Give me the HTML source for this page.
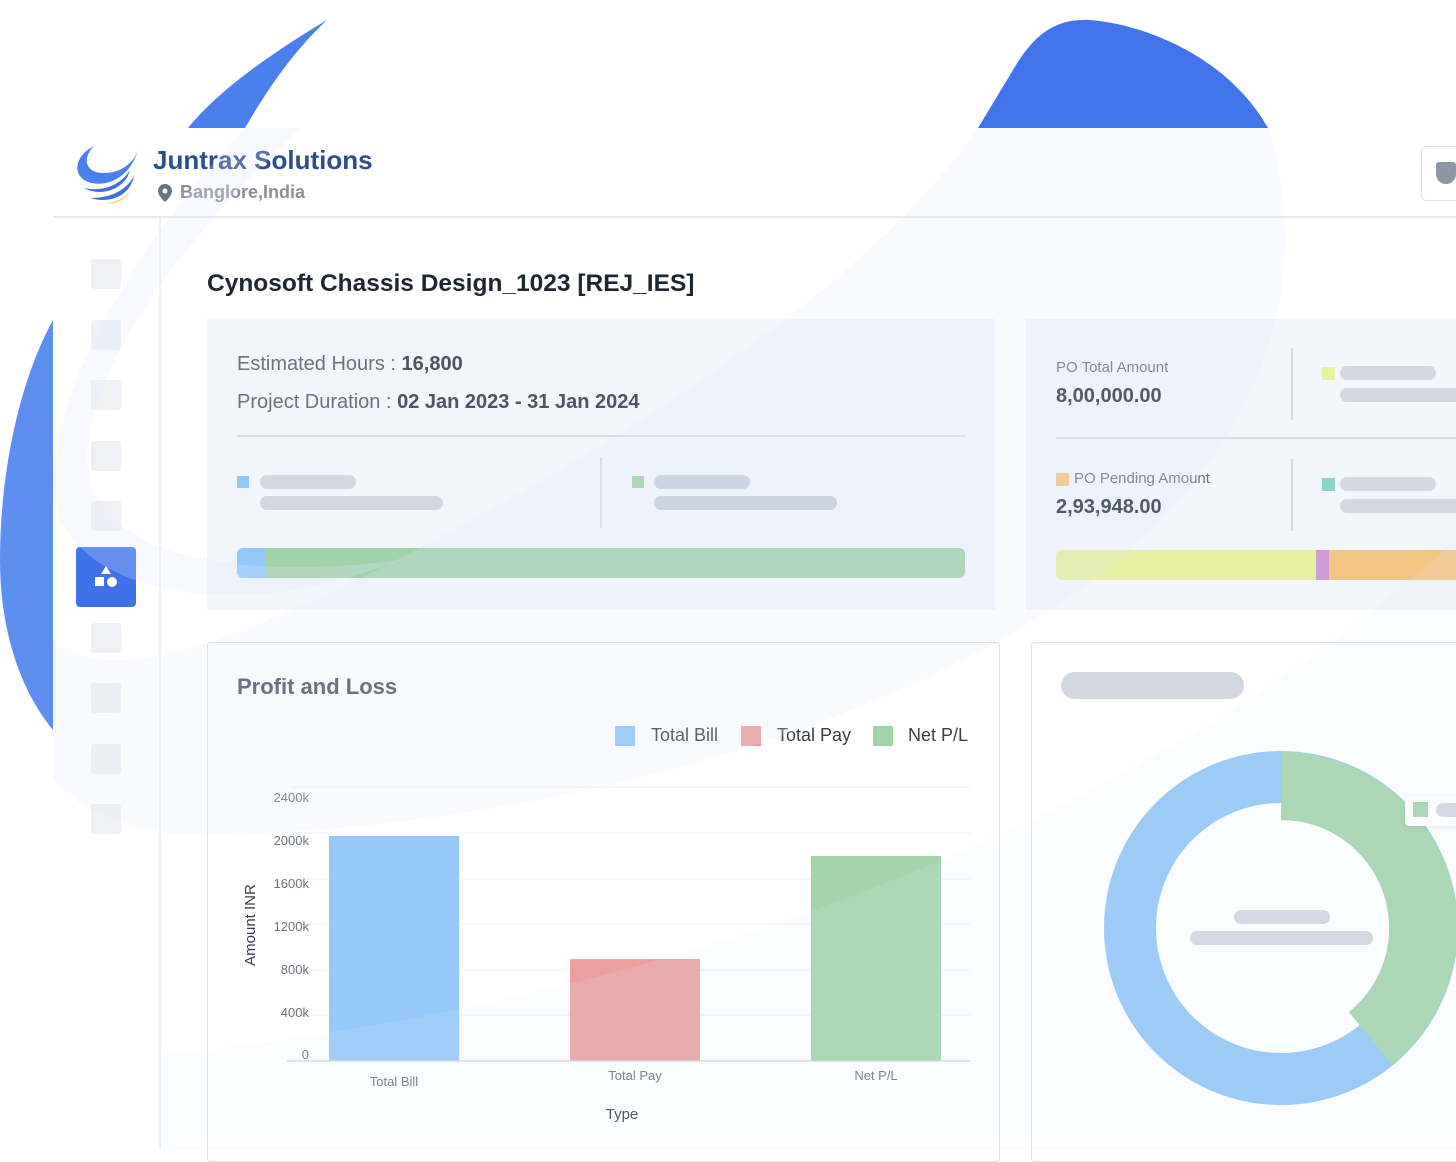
<!DOCTYPE html>
<html><head><meta charset="utf-8"><style>
*{margin:0;padding:0;box-sizing:border-box}
body{width:1456px;height:1150px;overflow:hidden;background:#fff;position:relative;font-family:"Liberation Sans",sans-serif}
.a{position:absolute}
.sk{position:absolute;background:#d3d8e0;border-radius:8px}
.sq{position:absolute;width:30px;height:30px;background:#eef0f4;border-radius:3px;left:91px}
</style></head><body>
<svg class="a" style="left:0;top:0" width="1456" height="1150">
<path d="M327 20 C260 60 215 95 188 128 L245 128 C270 85 295 50 327 20Z" fill="#4a7fee"/>
<path d="M978 128 L1268 128 C1230 60 1150 25 1090 20 C1050 18 1030 40 1010 75Z" fill="#4174ec"/>
<path d="M53 320 C20 380 0 470 0 560 C0 630 20 690 53 730Z" fill="#5d8ff0"/>
</svg>
<div class="a" style="left:53px;top:128px;width:1403px;height:1022px;background:#fff"></div>
<div class="a" style="left:53px;top:216px;width:1403px;height:2px;background:#e6e8ec"></div>
<div class="a" style="left:159px;top:218px;width:2px;height:932px;background:#eef0f3"></div>
<svg class="a" style="left:72px;top:140px" width="72" height="68">
<path d="M22 6 C2 16 0 36 16 42 C34 48 58 38 66 10 C60 28 40 36 24 32 C12 28 12 16 22 6Z" fill="#4a7fee"/>
<path d="M58 30 C54 48 30 58 12 48 C30 52 48 46 58 30Z" fill="#3f6fe0"/>
<path d="M62 36 C58 56 38 64 18 58 C40 58 54 50 62 36Z" fill="#3f6fe0"/>
<path d="M58 52 C52 60 44 64 34 64 C46 62 52 58 58 52Z" fill="#f0b830"/>
</svg>
<div class="a" style="left:153px;top:145px;font-size:26px;font-weight:bold;color:#2c4d8e">Juntrax Solutions</div>
<svg class="a" style="left:158px;top:184px" width="14" height="18"><path d="M7 0C3 0 0 3 0 7c0 5 7 11 7 11s7-6 7-11C14 3 11 0 7 0z" fill="#6b7280"/><circle cx="7" cy="7" r="2.5" fill="#fff"/></svg>
<div class="a" style="left:180px;top:182px;font-size:18px;font-weight:bold;color:#8a8f98">Banglore,India</div>
<div class="a" style="left:1421px;top:146px;width:60px;height:55px;border:1px solid #dfe2e6;border-radius:5px;background:#fff"></div>
<div class="a" style="left:1436px;top:162px;width:20px;height:22px;background:#8f96a3;border-radius:3px 3px 10px 10px"></div>
<div class="sq" style="top:259px"></div><div class="sq" style="top:320px"></div><div class="sq" style="top:380px"></div><div class="sq" style="top:441px"></div><div class="sq" style="top:501px"></div>
<div class="sq" style="top:623px"></div><div class="sq" style="top:683px"></div><div class="sq" style="top:744px"></div><div class="sq" style="top:804px"></div>
<div class="a" style="left:76px;top:547px;width:60px;height:60px;background:#3f72e8;border-radius:4px"></div>
<svg class="a" style="left:93px;top:564px" width="26" height="26"><path d="M13 2 L18 10 L8 10Z" fill="#fff"/><rect x="2" y="13" width="9" height="9" fill="#fff"/><circle cx="19" cy="18" r="5" fill="#fff"/></svg>
<div class="a" style="left:207px;top:270px;font-size:24.5px;font-weight:bold;color:#1e2533">Cynosoft Chassis Design_1023 [REJ_IES]</div>

<div class="a" style="left:207px;top:319px;width:788px;height:291px;background:#f2f5fa"></div>
<div class="a" style="left:237px;top:353px;font-size:20px;color:#6b7280">Estimated Hours : <b style="color:#4b5563">16,800</b></div>
<div class="a" style="left:237px;top:391px;font-size:20px;color:#6b7280">Project Duration : <b style="color:#4b5563">02 Jan 2023 - 31 Jan 2024</b></div>
<div class="a" style="left:237px;top:435px;width:728px;height:2px;background:#d6dbe3"></div>
<div class="a" style="left:237px;top:476px;width:12px;height:12px;background:#90c8f8"></div>
<div class="sk" style="left:260px;top:475px;width:96px;height:14px"></div>
<div class="sk" style="left:260px;top:496px;width:183px;height:14px"></div>
<div class="a" style="left:600px;top:457px;width:2px;height:71px;background:#d6dbe3"></div>
<div class="a" style="left:632px;top:476px;width:12px;height:12px;background:#a0d4a8"></div>
<div class="sk" style="left:654px;top:475px;width:96px;height:14px;background:#c9d0dc"></div>
<div class="sk" style="left:654px;top:496px;width:183px;height:14px;background:#c9d0dc"></div>
<div class="a" style="left:237px;top:548px;width:728px;height:30px;background:#a0d2aa;border-radius:6px;overflow:hidden"><div style="width:28px;height:30px;background:#90c8f8"></div></div>

<div class="a" style="left:1026px;top:319px;width:430px;height:291px;background:#f2f5fa"></div>
<div class="a" style="left:1056px;top:359px;font-size:15px;color:#6b7280">PO Total Amount</div>
<div class="a" style="left:1056px;top:385px;font-size:20px;font-weight:bold;color:#2f3745">8,00,000.00</div>
<div class="a" style="left:1291px;top:348px;width:2px;height:72px;background:#d6dbe3"></div>
<div class="a" style="left:1322px;top:367px;width:13px;height:13px;background:#e6f2a0"></div>
<div class="sk" style="left:1340px;top:366px;width:96px;height:14px"></div>
<div class="sk" style="left:1340px;top:388px;width:130px;height:14px"></div>
<div class="a" style="left:1056px;top:437px;width:400px;height:2px;background:#d6dbe3"></div>
<div class="a" style="left:1056px;top:473px;width:13px;height:13px;background:#f4c686"></div>
<div class="a" style="left:1074px;top:470px;font-size:15px;color:#6b7280">PO Pending Amount</div>
<div class="a" style="left:1056px;top:496px;font-size:20px;font-weight:bold;color:#2f3745">2,93,948.00</div>
<div class="a" style="left:1291px;top:459px;width:2px;height:72px;background:#d6dbe3"></div>
<div class="a" style="left:1322px;top:478px;width:13px;height:13px;background:#8ad4c8"></div>
<div class="sk" style="left:1340px;top:477px;width:96px;height:14px"></div>
<div class="sk" style="left:1340px;top:499px;width:130px;height:14px"></div>
<div class="a" style="left:1056px;top:550px;width:420px;height:30px;border-radius:6px;overflow:hidden;display:flex"><div style="width:260px;background:#e6f0a0"></div><div style="width:13px;background:#d09ad8"></div><div style="flex:1;background:#f4c686"></div></div>

<div class="a" style="left:207px;top:642px;width:793px;height:520px;border:1px solid #dde0e5;border-radius:4px;background:#fff"></div>
<div class="a" style="left:237px;top:674px;font-size:22px;font-weight:bold;color:#4b5563">Profit and Loss</div>
<div class="a" style="left:615px;top:726px;width:20px;height:20px;background:#90c8f8"></div>
<div class="a" style="left:651px;top:725px;font-size:18px;color:#3a3f47">Total Bill</div>
<div class="a" style="left:741px;top:726px;width:20px;height:20px;background:#eea0a0"></div>
<div class="a" style="left:777px;top:725px;font-size:18px;color:#3a3f47">Total Pay</div>
<div class="a" style="left:873px;top:726px;width:20px;height:20px;background:#a0d4a8"></div>
<div class="a" style="left:908px;top:725px;font-size:18px;color:#3a3f47">Net P/L</div>
<svg class="a" style="left:207px;top:642px" width="793" height="508" font-family="Liberation Sans, sans-serif">
<g stroke="#eef0f3" stroke-width="1">
<line x1="85" y1="145" x2="763" y2="145"/><line x1="85" y1="191" x2="763" y2="191"/><line x1="85" y1="237" x2="763" y2="237"/><line x1="85" y1="282" x2="763" y2="282"/><line x1="85" y1="328" x2="763" y2="328"/><line x1="85" y1="373" x2="763" y2="373"/></g>
<g font-size="13" fill="#6b7280" text-anchor="end">
<text x="102" y="160">2400k</text><text x="102" y="203">2000k</text><text x="102" y="246">1600k</text><text x="102" y="289">1200k</text><text x="102" y="332">800k</text><text x="102" y="375">400k</text><text x="102" y="417">0</text></g>
<rect x="122" y="194" width="130" height="225" fill="#94c8f8"/>
<rect x="363" y="317" width="130" height="102" fill="#eca0a0"/>
<rect x="604" y="214" width="130" height="205" fill="#a4d4aa"/>
<line x1="80" y1="419" x2="763" y2="419" stroke="#d6d9de" stroke-width="1.5"/>
<g font-size="13" fill="#6b7280" text-anchor="middle"><text x="187" y="444">Total Bill</text><text x="428" y="438">Total Pay</text><text x="669" y="438">Net P/L</text></g>
<text x="415" y="477" font-size="15" fill="#3a3f47" text-anchor="middle">Type</text>
<text transform="translate(48,283) rotate(-90)" font-size="15" fill="#3a3f47" text-anchor="middle">Amount INR</text>
</svg>

<div class="a" style="left:1031px;top:642px;width:440px;height:520px;border:1px solid #dde0e5;border-radius:4px;background:#fff"></div>
<div class="sk" style="left:1061px;top:672px;width:183px;height:27px;border-radius:14px"></div>
<svg class="a" style="left:1090px;top:740px" width="366" height="380">
<circle cx="191" cy="188" r="151" fill="none" stroke="#90c6f6" stroke-width="52"/>
<path d="M191 12 A176 176 0 0 1 302 325 L259 272 A108 108 0 0 0 191 80 Z" fill="#a2d4aa"/>
</svg>
<div class="sk" style="left:1234px;top:910px;width:96px;height:14px"></div>
<div class="sk" style="left:1190px;top:931px;width:183px;height:14px"></div>
<div class="a" style="left:1405px;top:796px;width:60px;height:30px;background:#fff;border-radius:4px;box-shadow:0 2px 6px rgba(0,0,0,.08)"></div>
<div class="a" style="left:1413px;top:802px;width:15px;height:15px;background:#a2d4aa"></div>
<div class="sk" style="left:1436px;top:803px;width:40px;height:14px"></div>

<svg class="a" style="left:0;top:0;pointer-events:none" width="1456" height="1150">
<path d="M978 128 L1268 128 C1310 260 1280 420 1120 560 C920 720 560 830 200 835 C120 835 70 800 53 780 L53 640 C120 700 300 620 560 470 C760 350 900 240 978 128Z" fill="#dfe8fa" opacity=".2"/>
<path d="M245 128 L300 128 C160 260 70 400 90 480 C110 560 250 580 400 560 C250 620 100 600 60 520 C30 430 120 260 245 128Z" fill="#dfe8fa" opacity=".25"/>
<path d="M160 1055 C600 1010 1100 860 1456 540 L1456 1150 L160 1150Z" fill="#dfe8fa" opacity=".15"/>
</svg>
</body></html>
